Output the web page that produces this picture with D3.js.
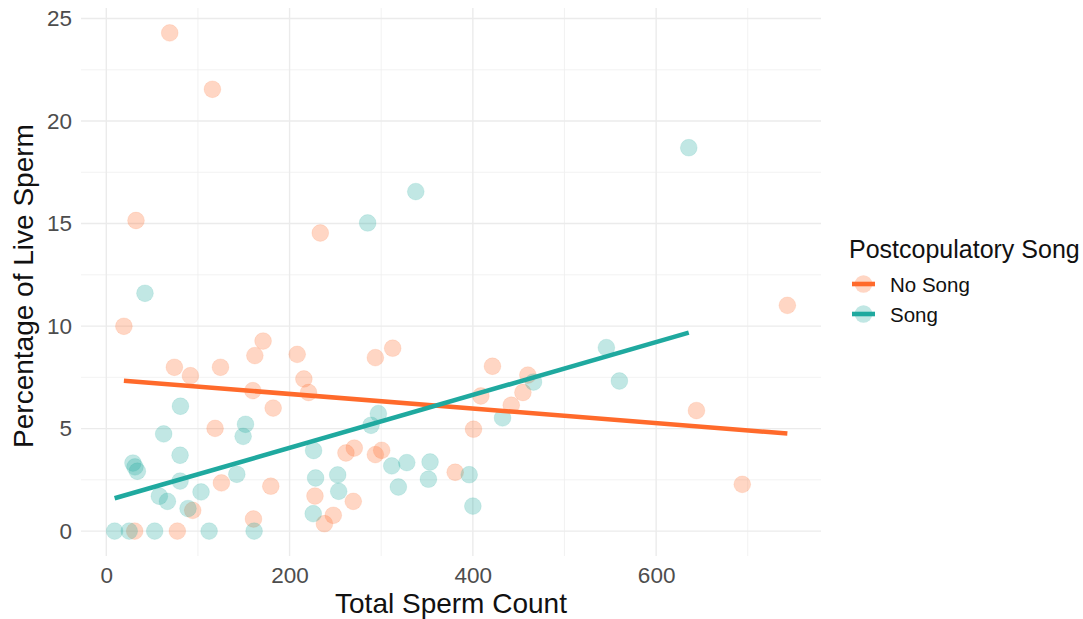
<!DOCTYPE html>
<html>
<head>
<meta charset="UTF-8">
<script src="https://d3js.org/d3.v7.min.js"></script>
<style>
  body { margin: 0; background: #fff; }
  svg { display: block; font-family: "Liberation Sans", Arial, sans-serif; }
</style>
</head>
<body>
<svg id="chart" width="1083" height="619"></svg>
<script>
// No Song group: [total sperm count, % live sperm]
const noSongCount = [69.2, 115.8, 32.4, 233.5, 19.2, 171.1, 162.1, 208.3, 74.3, 91.8, 124.6, 215.6, 220.7, 159.9, 182.1, 118.7, 125.6, 179.5, 227.7, 94.3, 160.6, 238, 31, 77.5, 293.6, 312.5, 261.5, 270.6, 293.6, 300.5, 269.5, 247.7, 380.7, 400.7, 408.7, 421.4, 441.9, 454.6, 460, 644, 694, 743.2];
const noSongLive  = [24.3, 21.55, 15.15, 14.54, 9.99, 9.27, 8.56, 8.62, 7.99, 7.58, 7.99, 7.42, 6.76, 6.85, 6.0, 5.01, 2.35, 2.19, 1.71, 1.01, 0.59, 0.36, 0, 0, 8.46, 8.92, 3.81, 4.05, 3.73, 3.94, 1.45, 0.77, 2.87, 4.97, 6.59, 8.04, 6.14, 6.76, 7.61, 5.88, 2.28, 11.01];
// Song group
const songCount = [285.2, 635.6, 337.7, 42.2, 80.9, 151.9, 149.3, 62.6, 80.5, 29.1, 31.3, 33.9, 226.2, 80.5, 142.4, 228.4, 57.9, 66.7, 103.4, 89.2, 225.8, 9.1, 25, 52.8, 112.2, 161.3, 296.9, 288.9, 311.5, 327.9, 353.3, 351.5, 318.7, 252.5, 253.6, 396, 400, 432.4, 466.2, 545.7, 559.9];
const songLive  = [15.03, 18.7, 16.56, 11.6, 6.09, 5.21, 4.62, 4.74, 3.70, 3.32, 3.13, 2.92, 3.93, 2.44, 2.77, 2.59, 1.70, 1.45, 1.91, 1.10, 0.85, 0, 0, 0, 0, 0, 5.73, 5.16, 3.18, 3.34, 3.37, 2.53, 2.15, 2.74, 1.94, 2.75, 1.22, 5.52, 7.27, 8.95, 7.32];

const groups = ["No Song", "Song"];
const groupColors = ["#FF6A2B", "#1FA99F"];
const xTicks = [0, 200, 400, 600];
const yTicks = [0, 5, 10, 15, 20, 25];

const series = [
  { name: groups[0], color: groupColors[0], pts: noSongCount.map((c, i) => [c, noSongLive[i]]) },
  { name: groups[1], color: groupColors[1], pts: songCount.map((c, i) => [c, songLive[i]]) }
];

const svg = d3.select("#chart");
const margin = { left: 81, right: 262, top: 8, bottom: 63 };
const W = 1083, H = 619;

const allPts = series.flatMap(s => s.pts);
const xExt = d3.extent(allPts, d => d[0]);
const yExt = d3.extent(allPts, d => d[1]);
const xPad = (xExt[1] - xExt[0]) * 0.05, yPad = (yExt[1] - yExt[0]) * 0.05;

const x = d3.scaleLinear().domain([xExt[0] - xPad, xExt[1] + xPad]).range([margin.left, W - margin.right]);
const y = d3.scaleLinear().domain([yExt[0] - yPad, yExt[1] + yPad]).range([H - margin.bottom, margin.top]);

const grid = svg.append("g");
const xMinor = d3.range(100, 800, 200);
const yMinor = d3.range(2.5, 25, 5);
grid.selectAll(".xm").data(xMinor).join("line")
  .attr("x1", d => x(d)).attr("x2", d => x(d)).attr("y1", y.range()[0]).attr("y2", y.range()[1])
  .attr("stroke", "#EFEFEF").attr("stroke-width", 0.8);
grid.selectAll(".ym").data(yMinor).join("line")
  .attr("y1", d => y(d)).attr("y2", d => y(d)).attr("x1", x.range()[0]).attr("x2", x.range()[1])
  .attr("stroke", "#EFEFEF").attr("stroke-width", 0.8);
grid.selectAll(".xM").data(xTicks).join("line")
  .attr("x1", d => x(d)).attr("x2", d => x(d)).attr("y1", y.range()[0]).attr("y2", y.range()[1])
  .attr("stroke", "#EBEBEB").attr("stroke-width", 1.4);
grid.selectAll(".yM").data(yTicks).join("line")
  .attr("y1", d => y(d)).attr("y2", d => y(d)).attr("x1", x.range()[0]).attr("x2", x.range()[1])
  .attr("stroke", "#EBEBEB").attr("stroke-width", 1.4);

// points
series.forEach(s => {
  svg.append("g").selectAll("circle").data(s.pts).join("circle")
    .attr("cx", d => x(d[0])).attr("cy", d => y(d[1])).attr("r", 8.4)
    .attr("fill", s.color).attr("fill-opacity", 0.28)
    .attr("stroke", s.color).attr("stroke-opacity", 0.12);
});

// linear fits per group
function fit(pts) {
  const mx = d3.mean(pts, d => d[0]), my = d3.mean(pts, d => d[1]);
  const b = d3.sum(pts, d => (d[0] - mx) * (d[1] - my)) / d3.sum(pts, d => (d[0] - mx) ** 2);
  const a = my - b * mx;
  const ex = d3.extent(pts, d => d[0]);
  return ex.map(v => [v, a + b * v]);
}
series.forEach(s => {
  svg.append("path").datum(fit(s.pts))
    .attr("d", d3.line().x(d => x(d[0])).y(d => y(d[1])))
    .attr("stroke", s.color).attr("stroke-width", 4.6).attr("fill", "none");
});

// axes labels
const xAxis = svg.append("g").attr("transform", `translate(0,${H - margin.bottom})`)
  .call(d3.axisBottom(x).tickValues(xTicks).tickSize(0).tickPadding(11));
const yAxis = svg.append("g").attr("transform", `translate(${margin.left},0)`)
  .call(d3.axisLeft(y).tickValues(yTicks).tickSize(0).tickPadding(9));
[xAxis, yAxis].forEach(g => {
  g.select(".domain").remove();
  g.selectAll("text").attr("fill", "#4D4D4D").style("font-size", "22.5px");
});

svg.append("text").attr("x", (x.range()[0] + x.range()[1]) / 2).attr("y", 613)
  .attr("text-anchor", "middle").style("font-size", "28px").attr("fill", "#111")
  .text("Total Sperm Count");
svg.append("text").attr("transform", `translate(33,${(y.range()[0] + y.range()[1]) / 2 + 4}) rotate(-90)`)
  .attr("text-anchor", "middle").style("font-size", "28px").attr("fill", "#111")
  .text("Percentage of Live Sperm");

// legend
const lg = svg.append("g").attr("transform", "translate(848,0)");
lg.append("text").attr("x", 1).attr("y", 258).style("font-size", "25px").attr("fill", "#111")
  .text("Postcopulatory Song");
series.forEach((s, i) => {
  const cy = 284 + i * 30;
  lg.append("circle").attr("cx", 15.5).attr("cy", cy).attr("r", 8.8)
    .attr("fill", s.color).attr("fill-opacity", 0.28);
  lg.append("line").attr("x1", 4).attr("x2", 27).attr("y1", cy).attr("y2", cy)
    .attr("stroke", s.color).attr("stroke-width", 4.6);
  lg.append("text").attr("x", 42).attr("y", cy + 8).style("font-size", "20.5px").attr("fill", "#111")
    .text(s.name);
});
</script>
</body>
</html>
